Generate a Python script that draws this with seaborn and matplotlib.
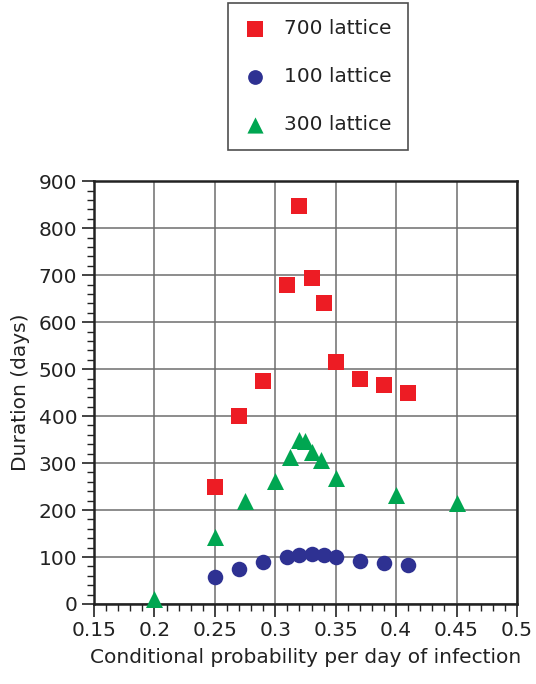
import numpy as np
import pandas as pd
import matplotlib
matplotlib.use("Agg")
import matplotlib.pyplot as plt
import seaborn as sns
from matplotlib.ticker import MultipleLocator

# values
x_700 = [0.25, 0.27, 0.29, 0.31, 0.32, 0.33, 0.34, 0.35, 0.37, 0.39, 0.41]
y_700 = [249, 400, 474, 679, 847, 694, 640, 515, 479, 466, 449]

x_100 = [0.25, 0.27, 0.29, 0.31, 0.32, 0.33, 0.34, 0.35, 0.37, 0.39, 0.41]
y_100 = [58, 74, 89, 101, 104, 106, 104, 101, 92, 87, 83]

x_300 = [0.2, 0.25, 0.275, 0.3, 0.3125, 0.32, 0.325, 0.33, 0.3375, 0.35, 0.4, 0.45]
y_300 = [10, 143, 219, 262, 313, 350, 347, 323, 306, 269, 232, 214]

series_names = ["700 lattice", "100 lattice", "300 lattice"]
palette = {"700 lattice": "#ED1C24", "100 lattice": "#2E3192", "300 lattice": "#00A651"}
markers = {"700 lattice": "s", "100 lattice": "o", "300 lattice": "^"}
sizes = {"700 lattice": 135, "100 lattice": 125, "300 lattice": 150}

df = pd.concat([
    pd.DataFrame({"p": x_700, "days": y_700, "series": "700 lattice"}),
    pd.DataFrame({"p": x_100, "days": y_100, "series": "100 lattice"}),
    pd.DataFrame({"p": x_300, "days": y_300, "series": "300 lattice"}),
], ignore_index=True)

sns.set_style("white")
plt.rcParams["font.family"] = ["DejaVu Sans"]
FS = 14.5

fig = plt.figure(figsize=(5.36, 6.84), dpi=100)
ax = fig.add_axes([0.1754, 0.117, 0.789, 0.618])

for name in series_names:
    sub = df[df["series"] == name]
    sns.scatterplot(data=sub, x="p", y="days", marker=markers[name],
                    color=palette[name], s=sizes[name], linewidth=0,
                    label=name, ax=ax, zorder=5, clip_on=False)

ax.set_xlim(0.15, 0.5)
ax.set_ylim(0, 900)
ax.xaxis.set_major_locator(MultipleLocator(0.05))
ax.xaxis.set_minor_locator(MultipleLocator(0.01))
ax.yaxis.set_major_locator(MultipleLocator(100))
ax.yaxis.set_minor_locator(MultipleLocator(20))
ax.set_xticks(np.arange(0.15, 0.5001, 0.05))
ax.set_xticklabels(["0.15", "0.2", "0.25", "0.3", "0.35", "0.4", "0.45", "0.5"])

ax.grid(True, which="major", color="#6e6e6e", linewidth=1.1)
ax.set_axisbelow(True)
for sp in ax.spines.values():
    sp.set_linewidth(1.8)
    sp.set_color("#222222")

ax.tick_params(axis="both", which="major", direction="out", length=9, width=1.2,
               color="#222222", labelsize=FS, pad=3, left=True, bottom=True,
               labelcolor="#222222")
ax.tick_params(axis="both", which="minor", direction="out", length=5, width=1.0,
               color="#222222", left=True, bottom=True)

ax.set_xlabel("Conditional probability per day of infection", fontsize=FS,
              labelpad=6, color="#222222")
ax.set_ylabel("Duration (days)", fontsize=FS, labelpad=6, color="#222222")

ax.get_legend().remove()
handles, labels = ax.get_legend_handles_labels()
leg = fig.legend(handles, labels, loc="upper center", bbox_to_anchor=(0.593, 0.996),
                 fontsize=FS, frameon=True, fancybox=False, labelspacing=1.45,
                 borderpad=0.8, handletextpad=0.9, borderaxespad=0, markerscale=0.95,
                 handlelength=1.1)
leg.get_frame().set_edgecolor("#222222")
leg.get_frame().set_linewidth(1.2)
for t in leg.get_texts():
    t.set_color("#222222")

fig.savefig("out.png", dpi=100)
